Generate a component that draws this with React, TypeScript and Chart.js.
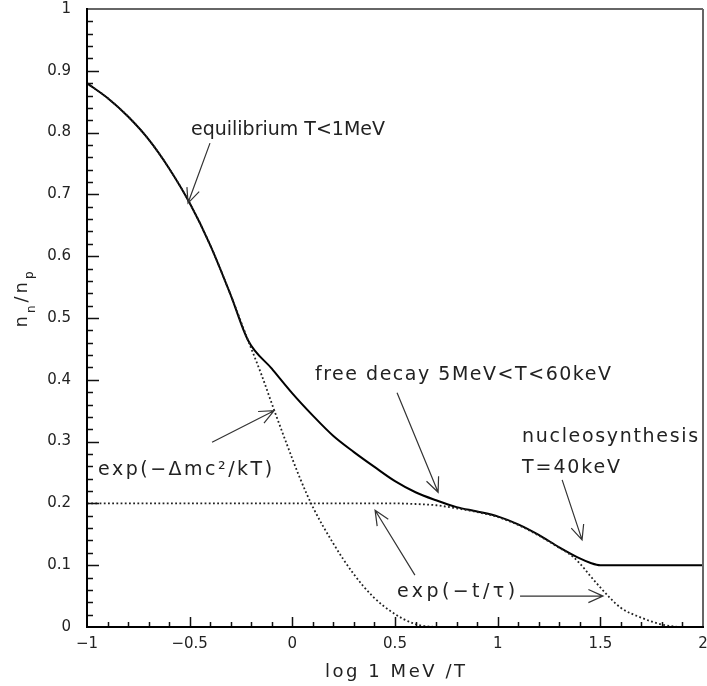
import React, { useEffect, useRef } from 'react';
import { Chart, registerables } from 'chart.js';

Chart.register(...registerables);

// Solid curve: full n_n/n_p evolution
const solidX = [-1, -0.9, -0.8, -0.7, -0.6, -0.5, -0.4, -0.3, -0.216, -0.1, 0, 0.1, 0.2, 0.3, 0.4, 0.5, 0.6, 0.7, 0.8, 0.9, 1.0, 1.1, 1.2, 1.3, 1.4, 1.45, 1.5, 2.0];
const solidY = [0.88, 0.856, 0.826, 0.789, 0.742, 0.686, 0.618, 0.537, 0.464, 0.418, 0.378, 0.342, 0.309, 0.283, 0.259, 0.236, 0.218, 0.205, 0.194, 0.187, 0.179, 0.166, 0.149, 0.129, 0.111, 0.104, 0.100, 0.100];

// Dotted: equilibrium exp(-Δmc²/kT)
const eqX = [-1, -0.9, -0.8, -0.7, -0.6, -0.5, -0.4, -0.3, -0.216, -0.15, -0.094, -0.026, 0.037, 0.1, 0.198, 0.296, 0.393, 0.49, 0.588, 0.655, 0.75, 2.0];
const eqY = [0.88, 0.856, 0.826, 0.789, 0.742, 0.686, 0.618, 0.537, 0.464, 0.408, 0.356, 0.295, 0.241, 0.194, 0.136, 0.087, 0.049, 0.023, 0.006, 0.001, 0, 0];

// Dotted: free decay exp(-t/τ)
const decayX = [-1, 0.5, 0.6, 0.7, 0.8, 0.9, 1.0, 1.1, 1.2, 1.3, 1.35, 1.4, 1.45, 1.5, 1.55, 1.6, 1.7, 1.8, 1.9, 2.0];
const decayY = [0.2, 0.2, 0.199, 0.197, 0.192, 0.186, 0.178, 0.165, 0.148, 0.128, 0.118, 0.103, 0.083, 0.064, 0.046, 0.031, 0.015, 0.004, 0, 0];

// Annotation texts (data coords of left baseline, rendered width px)
const annText = ['equilibrium T<1MeV', 'free decay 5MeV<T<60keV', 'exp(\u2212\u0394mc\u00B2/kT)', 'exp(\u2212t/\u03C4)', 'nucleosynthesis', 'T=40keV'];
const annX = [-0.4935, 0.110, -0.946, 0.510, 1.119, 1.119];
const annY = [0.796, 0.400, 0.246, 0.0485, 0.299, 0.249];
const annW = [194, 296, 174, 118, 176, 98];

// Arrows (from -> tip) in data coords
const arrowFromX = [-0.401, 0.510, -0.391, 0.597, 1.109, 1.314];
const arrowFromY = [0.783, 0.379, 0.299, 0.084, 0.050, 0.238];
const arrowToX = [-0.508, 0.710, -0.089, 0.403, 1.513, 1.411];
const arrowToY = [0.686, 0.218, 0.350, 0.189, 0.050, 0.141];

const FONT = '"DejaVu Sans", "Liberation Sans", sans-serif';

function fitText(ctx: CanvasRenderingContext2D, text: string, x: number, y: number, w: number, align: string) {
  (ctx as any).letterSpacing = '0px';
  const nat = ctx.measureText(text).width;
  const n = Array.from(text).length;
  const sp = n > 1 ? (w - nat) / (n - 1) : 0;
  (ctx as any).letterSpacing = sp + 'px';
  ctx.textAlign = 'left';
  const sx = align === 'center' ? x - w / 2 : x;
  ctx.fillText(text, sx, y);
  (ctx as any).letterSpacing = '0px';
}

const decorPlugin = {
  id: 'decor',
  afterDatasetsDraw(chart: any) {
    const ctx: CanvasRenderingContext2D = chart.ctx;
    const xs = chart.scales.x;
    const ys = chart.scales.y;
    const { left, right, top, bottom } = chart.chartArea;
    ctx.save();

    // inward ticks
    ctx.strokeStyle = '#111';
    ctx.lineWidth = 1.5;
    ctx.beginPath();
    for (let i = 1; i < 50; i++) {
      const py = Math.round(ys.getPixelForValue(i / 50)) + 0.5;
      const len = i % 5 === 0 ? 12 : 6;
      ctx.moveTo(left, py);
      ctx.lineTo(left + len, py);
    }
    for (let i = 1; i < 30; i++) {
      const px = Math.round(xs.getPixelForValue(-1 + i / 10)) + 0.5;
      const len = i % 5 === 0 ? 10 : 5;
      ctx.moveTo(px, bottom);
      ctx.lineTo(px, bottom - len);
    }
    ctx.stroke();

    // frame
    ctx.lineWidth = 1.5;
    ctx.strokeStyle = '#333';
    ctx.beginPath();
    ctx.moveTo(left, top);
    ctx.lineTo(right, top);
    ctx.stroke();
    ctx.lineWidth = 2;
    ctx.strokeStyle = '#666';
    ctx.beginPath();
    ctx.moveTo(right, top);
    ctx.lineTo(right, bottom);
    ctx.stroke();
    ctx.strokeStyle = '#000';
    ctx.lineWidth = 2;
    ctx.beginPath();
    ctx.moveTo(left, top - 1);
    ctx.lineTo(left, bottom);
    ctx.lineTo(right + 1, bottom);
    ctx.stroke();

    // arrows
    ctx.strokeStyle = '#333';
    ctx.lineWidth = 1.2;
    for (let i = 0; i < arrowFromX.length; i++) {
      const x0 = xs.getPixelForValue(arrowFromX[i]);
      const y0 = ys.getPixelForValue(arrowFromY[i]);
      const x1 = xs.getPixelForValue(arrowToX[i]);
      const y1 = ys.getPixelForValue(arrowToY[i]);
      const ang = Math.atan2(y1 - y0, x1 - x0);
      const hl = 16;
      const ha = 0.42;
      ctx.beginPath();
      ctx.moveTo(x0, y0);
      ctx.lineTo(x1, y1);
      ctx.moveTo(x1 - hl * Math.cos(ang - ha), y1 - hl * Math.sin(ang - ha));
      ctx.lineTo(x1, y1);
      ctx.lineTo(x1 - hl * Math.cos(ang + ha), y1 - hl * Math.sin(ang + ha));
      ctx.stroke();
    }

    // annotation texts
    ctx.fillStyle = '#222';
    ctx.font = '19px ' + FONT;
    ctx.textBaseline = 'alphabetic';
    for (let i = 0; i < annText.length; i++) {
      fitText(ctx, annText[i], xs.getPixelForValue(annX[i]), ys.getPixelForValue(annY[i]), annW[i], 'left');
    }

    // x title
    ctx.font = '18px ' + FONT;
    fitText(ctx, 'log 1 MeV /T', (left + right) / 2, bottom + 50, 140, 'center');

    // y title n_n / n_p rotated
    ctx.save();
    ctx.translate(left - 60, ys.getPixelForValue(0.53));
    ctx.rotate(-Math.PI / 2);
    const parts = [
      { t: 'n', s: 18, dy: 0 },
      { t: 'n', s: 12, dy: 8 },
      { t: '/', s: 18, dy: 0 },
      { t: 'n', s: 18, dy: 0 },
      { t: 'p', s: 12, dy: 6 },
    ];
    const gap = 3;
    let total = 0;
    const widths: number[] = [];
    for (const p of parts) {
      ctx.font = p.s + 'px ' + FONT;
      const w = ctx.measureText(p.t).width;
      widths.push(w);
      total += w;
    }
    total += gap * (parts.length - 1);
    let cx = -total / 2;
    ctx.textAlign = 'left';
    parts.forEach((p, i) => {
      ctx.font = p.s + 'px ' + FONT;
      ctx.fillText(p.t, cx, p.dy);
      cx += widths[i] + gap;
    });
    ctx.restore();

    ctx.restore();
  },
};

function fmt(v: number) {
  const s = String(Math.round(v * 10) / 10);
  return s.replace('-', '\u2212');
}

export default function App() {
  const ref = useRef<HTMLCanvasElement | null>(null);
  useEffect(() => {
    if (!ref.current) return;
    const toPts = (xs: number[], ys: number[]) => xs.map((x, i) => ({ x, y: ys[i] }));
    const dotted = {
      showLine: true,
      borderColor: '#222',
      borderWidth: 1.8,
      borderDash: [1.8, 2.4],
      pointRadius: 0,
      cubicInterpolationMode: 'monotone',
      fill: false,
    };
    const chart = new Chart(ref.current, {
      type: 'scatter',
      data: {
        datasets: [
          { ...dotted, data: toPts(eqX, eqY) },
          { ...dotted, data: toPts(decayX, decayY) },
          {
            data: toPts(solidX, solidY),
            showLine: true,
            borderColor: '#000',
            borderWidth: 2,
            pointRadius: 0,
            cubicInterpolationMode: 'monotone',
            fill: false,
          },
        ],
      } as any,
      options: {
        animation: false,
        responsive: true,
        maintainAspectRatio: false,
        layout: { padding: { top: 9, right: 4, left: 0, bottom: 0 } },
        plugins: { legend: { display: false }, tooltip: { enabled: false }, title: { display: false } },
        scales: {
          x: {
            type: 'linear',
            min: -1,
            max: 2,
            grid: { display: false, drawTicks: false },
            border: { display: false },
            ticks: {
              stepSize: 0.5,
              padding: 8,
              color: '#222',
              font: { family: FONT, size: 15 },
              maxRotation: 0,
              autoSkip: false,
              callback: (v: any) => fmt(Number(v)),
            },
            afterFit: (s: any) => {
              s.height = 59;
              s.paddingLeft = 0;
              s.paddingRight = 0;
            },
          },
          y: {
            type: 'linear',
            min: 0,
            max: 1,
            grid: { display: false, drawTicks: false },
            border: { display: false },
            ticks: {
              stepSize: 0.1,
              padding: 16,
              color: '#222',
              font: { family: FONT, size: 15 },
              autoSkip: false,
              callback: (v: any) => fmt(Number(v)),
            },
            afterFit: (s: any) => {
              s.width = 87;
              s.paddingTop = 0;
              s.paddingBottom = 0;
            },
          },
        },
      } as any,
      plugins: [decorPlugin],
    });
    return () => chart.destroy();
  }, []);
  return (
    <div style={{ position: 'fixed', left: 0, top: 0, width: 707, height: 686, background: '#fff' }}>
      <canvas ref={ref} />
    </div>
  );
}
